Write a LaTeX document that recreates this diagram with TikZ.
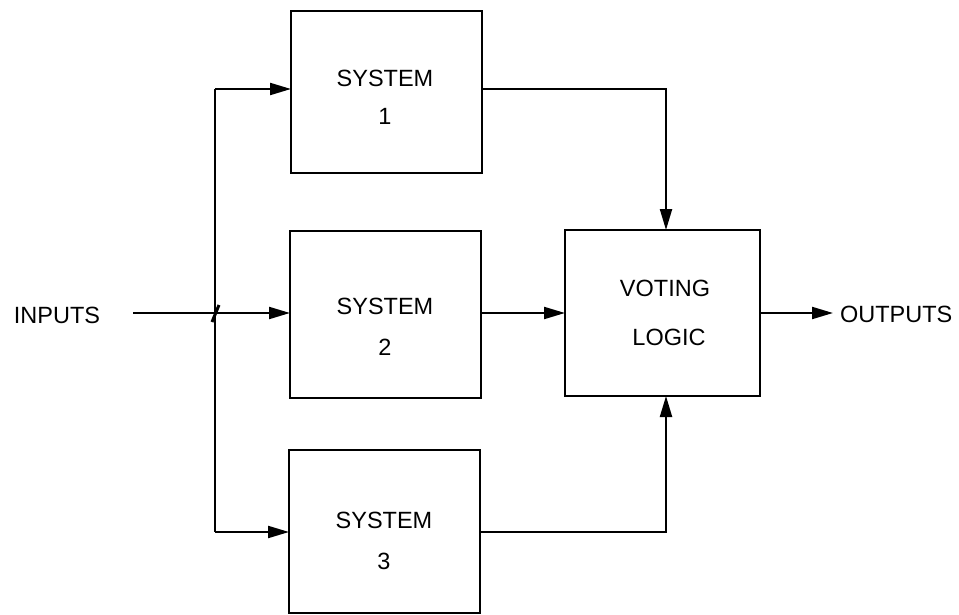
\documentclass[tikz,border=0pt]{standalone}
\usepackage{fontspec}
\setmainfont{Liberation Sans}
\usetikzlibrary{arrows.meta}
\begin{document}
\begin{tikzpicture}[x=1pt,y=-1pt,
  every node/.style={inner sep=0pt,outer sep=0pt},
  blk/.style={draw,line width=2.2pt,rectangle},
  lbl/.style={font=\fontsize{23.5}{28}\selectfont},
  wire/.style={line width=2.2pt},
  arr/.style={wire,-{Triangle[length=21pt,width=12pt]}}]
\useasboundingbox (0,0) rectangle (959,615);
% boxes
\node[blk,minimum width=191pt,minimum height=162pt] (b1) at (386.5,92) {};
\node[blk,minimum width=191pt,minimum height=167pt] (b2) at (385.5,314.5) {};
\node[blk,minimum width=191pt,minimum height=163pt] (b3) at (384.5,531.5) {};
\node[blk,minimum width=195pt,minimum height=166pt] (v) at (662.5,313) {};
% labels
\node[lbl] (t1a) at (385,78) {SYSTEM};
\node[lbl] (t1b) at (385,116) {1};
\node[lbl] (t2a) at (385,306) {SYSTEM};
\node[lbl] (t2b) at (385,347) {2};
\node[lbl] (t3a) at (384,520) {SYSTEM};
\node[lbl] (t3b) at (384,561) {3};
\node[lbl] (va) at (665,288) {VOTING};
\node[lbl] (vb) at (669,337) {LOGIC};
\node[lbl] (in) at (57,315) {INPUTS};
\node[lbl,anchor=west] (out) at (840,314) {OUTPUTS};
% coordinates
\coordinate (s) at (133,313);
\coordinate (jt) at (215,89);
\coordinate (jm) at (215,313);
\coordinate (jb) at (215,532);
\coordinate (o1) at (666,89);
\coordinate (o3) at (666,532);
\coordinate (oe) at (833,313);
% inputs
\draw[wire] (jt) -- (jb);
\draw[arr] (s) -- (jm -| b2.west);
\draw[arr] (jt) -- (jt -| b1.west);
\draw[arr] (jb) -- (jb -| b3.west);
\draw[line width=3pt] (219,305) -- (212,322);
% outputs of systems
\draw[arr] (o1 -| b1.east) -- (o1) -- (o1 |- v.north);
\draw[arr] (b2.east |- 0,313) -- (v.west |- 0,313);
\draw[arr] (o3 -| b3.east) -- (o3) -- (o3 |- v.south);
\draw[arr] (v.east |- 0,313) -- (oe);
\end{tikzpicture}
\end{document}
